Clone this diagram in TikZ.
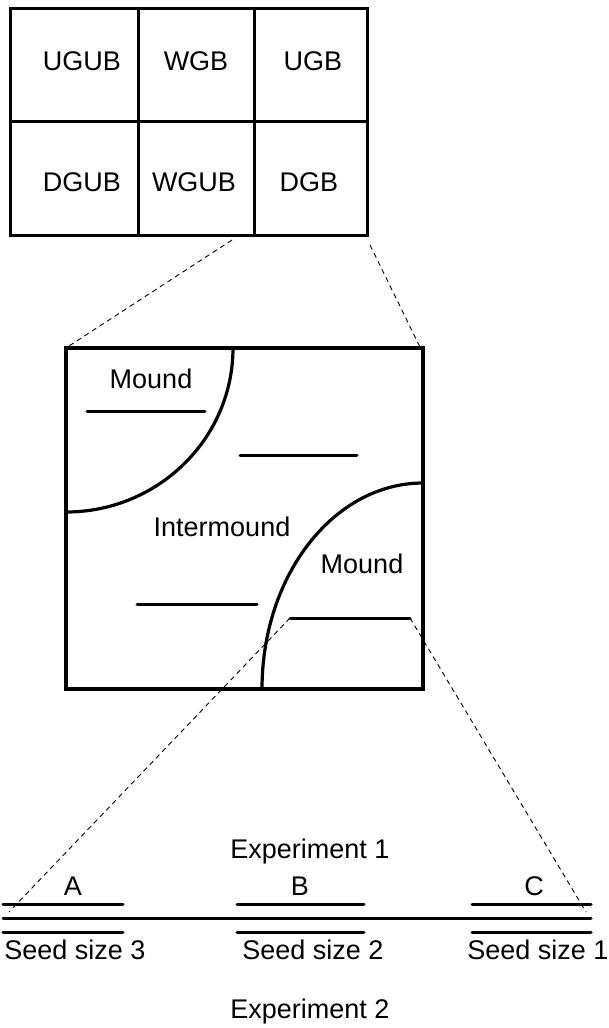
\documentclass[tikz,border=0pt]{standalone}
\usepackage{fontspec}
\setmainfont{Liberation Sans}
\begin{document}
\begin{tikzpicture}[x=1pt,y=-1pt,
  lbl/.style={font=\fontsize{27}{30}\selectfont, inner sep=0pt},
  cell/.style={draw, line width=3.2pt, inner sep=0pt, anchor=north west},
  thick line/.style={line width=3.2pt},
  seg/.style={line width=3pt, line cap=round},
  zoomline/.style={line width=0.9pt, dash pattern=on 5pt off 4pt}]
\useasboundingbox (0,0) rectangle (609,1028);
% top grid
\node[cell, minimum width=128pt, minimum height=113pt] (c11) at (9,7) {};
\node[cell, minimum width=116pt, minimum height=113pt] (c12) at (137,7) {};
\node[cell, minimum width=113pt, minimum height=113pt] (c13) at (253,7) {};
\node[cell, minimum width=128pt, minimum height=114pt] (c21) at (9,120) {};
\node[cell, minimum width=116pt, minimum height=114pt] (c22) at (137,120) {};
\node[cell, minimum width=113pt, minimum height=114pt] (c23) at (253,120) {};
\node[lbl] (ugub) at (82,61) {UGUB};
\node[lbl] (wgb) at (196,61) {WGB};
\node[lbl] (ugb) at (313,61) {UGB};
\node[lbl] (dgub) at (82,182) {DGUB};
\node[lbl] (wgub) at (194,182) {WGUB};
\node[lbl] (dgb) at (309,182) {DGB};
% middle box
\draw[thick line] (66,348) rectangle (423,689);
\draw[thick line] (233,348) .. controls (233,438.5) and (158,512) .. (66,512);
\draw[thick line] (423,483) .. controls (334,483) and (262,575) .. (262,689);
\coordinate (s1a) at (87,411); \coordinate (s1b) at (205,411);
\coordinate (s2a) at (240,455); \coordinate (s2b) at (357,455);
\coordinate (s3a) at (137,604); \coordinate (s3b) at (257,604);
\coordinate (s4a) at (290,618); \coordinate (s4b) at (410,618);
\draw[seg] (s1a) -- (s1b);
\draw[seg] (s2a) -- (s2b);
\draw[seg] (s3a) -- (s3b);
\draw[seg] (s4a) -- (s4b);
\node[lbl] (mound1) at (151,379) {Mound};
\node[lbl] (inter) at (222,527) {Intermound};
\node[lbl] (mound2) at (362,564) {Mound};
% zoom lines top
\coordinate (z1a) at (232,240); \coordinate (z1b) at (69,346);
\coordinate (z2a) at (370,245); \coordinate (z2b) at (420,347);
\draw[zoomline] (z1a) -- (z1b);
\draw[zoomline] (z2a) -- (z2b);
% bottom
\coordinate (la) at (3,918); \coordinate (lb) at (591,918);
\draw[seg] (la) -- (lb);
\draw[seg] (3,904) -- (123,904);
\draw[seg] (237,904) -- (364,904);
\draw[seg] (472,904) -- (591,904);
\draw[seg] (3,932) -- (123,932);
\draw[seg] (237,932) -- (364,932);
\draw[seg] (472,932) -- (591,932);
\coordinate (z3b) at (9,912); \coordinate (z4b) at (586,912);
\draw[zoomline] (s4a) -- (z3b);
\draw[zoomline] (s4b) -- (z4b);
\node[lbl] (exp1) at (310,852) {Experiment 1};
\node[lbl] (A) at (73,886) {A};
\node[lbl] (B) at (300,886) {B};
\node[lbl] (C) at (534,886) {C};
\node[lbl] (ss3) at (75,950) {Seed size 3};
\node[lbl] (ss2) at (313,950) {Seed size 2};
\node[lbl] (ss1) at (538,950) {Seed size 1};
\node[lbl] (exp2) at (310,1012) {Experiment 2};
\end{tikzpicture}
\end{document}
